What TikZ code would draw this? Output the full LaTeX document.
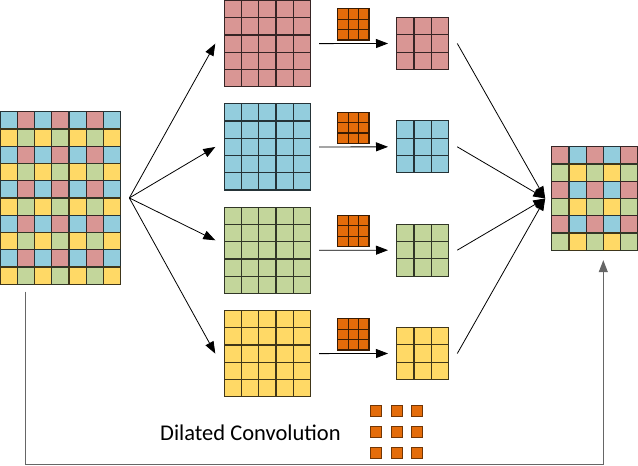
\documentclass[tikz,border=0pt]{standalone}
\usepackage{fontspec}
\setmainfont{Carlito}
\usetikzlibrary{calc,arrows.meta}

\definecolor{cred}{HTML}{D99694}
\definecolor{cblue}{HTML}{93CDDD}
\definecolor{cgreen}{HTML}{C3D69B}
\definecolor{cyellow}{HTML}{FFD966}
\definecolor{corange}{HTML}{E46C0A}
% checkerboards: 0/1 on odd rows, 2/3 on even rows
\colorlet{in0}{cblue}\colorlet{in1}{cred}\colorlet{in2}{cyellow}\colorlet{in3}{cgreen}
\colorlet{out0}{cred}\colorlet{out1}{cblue}\colorlet{out2}{cgreen}\colorlet{out3}{cyellow}

\tikzset{
  cellbox/.style={line width=1.2pt},
  gridbox/.style={inner sep=0pt, outer sep=0pt, anchor=north west},
  flow/.style={line width=0.8pt, -{Triangle[length=12pt,width=9pt]}},
  skipline/.style={line width=1pt, black!60, -{Triangle[length=12pt,width=9pt]}}
}

% x, y, cols, rows, colour prefix
\newcommand{\checker}[5]{%
  \foreach \c in {1,...,#3}{\foreach \r in {1,...,#4}{
    \pgfmathtruncatemacro{\k}{mod(\r-1,2)*2+mod(\c-1,2)}
    \filldraw[cellbox, fill=#5\k, draw=#5\k!25!black] (#1+\c*17.25-17.25, #2+\r*17.25-17.25) rectangle ++(17.25,17.25);
  }}}
% x, y, n, cell size, colour
\newcommand{\plain}[5]{%
  \foreach \c in {1,...,#3}{\foreach \r in {1,...,#3}{
    \filldraw[cellbox, fill=#5, draw=#5!25!black] (#1+\c*#4-#4, #2+\r*#4-#4) rectangle ++(#4,#4);
  }}}

\begin{document}
\begin{tikzpicture}[x=1pt,y=-1pt]
\useasboundingbox (0,0) rectangle (638,466);

% input and output maps
\node[gridbox, minimum width=120.75pt, minimum height=172.5pt] (inp) at (0,111.7) {};
\checker{0}{111.7}{7}{10}{in}
\node[gridbox, minimum width=86.25pt, minimum height=103.5pt] (outp) at (551.7,146.7) {};
\checker{551.7}{146.7}{5}{6}{out}

% four branches
\foreach \i/\col [evaluate=\i as \y using (\i-1)*103.33+0.5] in {1/cred,2/cblue,3/cgreen,4/cyellow}{
  \node[gridbox, minimum size=86.25pt] (big\i) at (224.3,\y) {};
  \plain{224.3}{\y}{5}{17.25}{\col}
  \plain{337.7}{\y+8.3}{3}{10.4}{corange}
  \node[gridbox, minimum size=52pt] (res\i) at (396.7,\y+17) {};
  \plain{396.7}{\y+17}{3}{17.33}{\col}
}

% split and merge
\coordinate (split) at ($(inp.east)+(8.6,0)$);
\coordinate (merge) at ($(outp.west)+(-6.5,0)$);
\foreach \i/\dy in {1/0,2/0,3/-10,4/0}{
  \draw[flow] (split) -- ($(big\i.west)+(-9,\dy)$);
  \draw[flow] ($(big\i.east)+(8.5,0)$) -- ($(res\i.west)+(-8.7,0)$);
  \draw[flow] ($(res\i.east)+(8.6,0)$) -- (merge);
}

% skip connection
\coordinate (skipA) at ($(inp.south west)+(25.7,7.4)$);
\coordinate (skipB) at ($(outp.south west)+(51.6,10)$);
\draw[skipline] (skipA) -- ++(0,172.6) -| (skipB);

% legend
\node[anchor=base west, inner sep=0pt, font=\fontsize{22.5}{27}\selectfont] (lbl) at (160,440) {Dilated Convolution};
\foreach \c in {0,1,2}{\foreach \r in {0,1,2}{
  \filldraw[fill=corange, draw=corange!50!black, line width=0.6pt] (370+\c*20.85, 405+\r*21.2) rectangle ++(11,11);
}}
\end{tikzpicture}
\end{document}
